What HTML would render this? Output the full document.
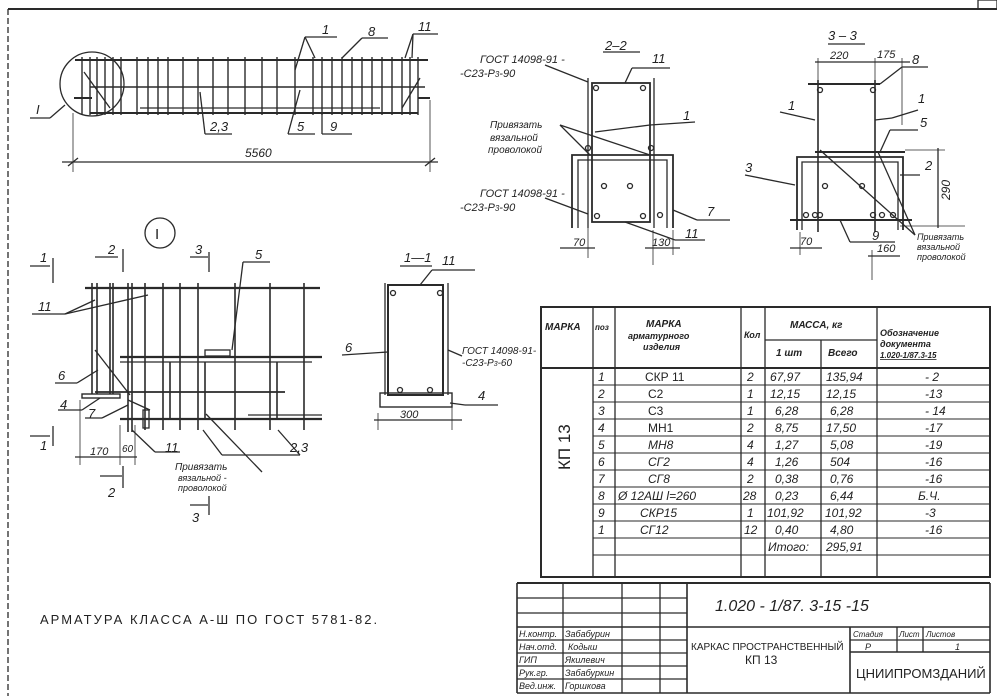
<!DOCTYPE html>
<html><head><meta charset="utf-8"><style>
html,body{margin:0;padding:0;background:#fff;}
svg{display:block;}
text{font-family:"Liberation Sans","DejaVu Sans",sans-serif;fill:#222;}
.i{font-style:italic;}
</style></head><body>
<svg width="997" height="696" viewBox="0 0 997 696" xmlns="http://www.w3.org/2000/svg">
<g stroke="#2a2a2a" stroke-width="1.3" fill="none">
<line x1="8" y1="9" x2="997" y2="9" stroke-width="2"/>
<line x1="8" y1="9" x2="8" y2="696" stroke-dasharray="6 3"/>
<rect x="978" y="0" width="19" height="9"/>

<circle cx="92" cy="84" r="32"/>
<line x1="75" y1="60" x2="428" y2="60" stroke-width="2"/>
<line x1="90" y1="87" x2="425" y2="87" stroke-width="1.6"/>
<line x1="90" y1="113" x2="418" y2="113" stroke-width="2"/>
<line x1="140" y1="108" x2="380" y2="108"/>
<line x1="74" y1="98" x2="92" y2="98" stroke-width="2"/>
<line x1="418" y1="98" x2="430" y2="98" stroke-width="2"/>
<g stroke-width="1.4">
<line x1="82" y1="57" x2="82" y2="115"/><line x1="90" y1="57" x2="90" y2="115"/><line x1="97" y1="57" x2="97" y2="115"/>
<line x1="105" y1="57" x2="105" y2="115"/><line x1="113" y1="57" x2="113" y2="115"/><line x1="121" y1="57" x2="121" y2="115"/>
<line x1="137" y1="57" x2="137" y2="115"/><line x1="148" y1="57" x2="148" y2="115"/><line x1="158" y1="57" x2="158" y2="115"/>
<line x1="168" y1="57" x2="168" y2="115"/><line x1="183" y1="57" x2="183" y2="115"/><line x1="198" y1="57" x2="198" y2="115"/>
<line x1="213" y1="57" x2="213" y2="115"/><line x1="228" y1="57" x2="228" y2="115"/><line x1="245" y1="57" x2="245" y2="115"/>
<line x1="262" y1="57" x2="262" y2="115"/><line x1="277" y1="57" x2="277" y2="115"/><line x1="295" y1="57" x2="295" y2="115"/>
<line x1="313" y1="57" x2="313" y2="115"/><line x1="322" y1="57" x2="322" y2="115"/><line x1="332" y1="57" x2="332" y2="115"/>
<line x1="342" y1="57" x2="342" y2="115"/><line x1="352" y1="57" x2="352" y2="115"/><line x1="362" y1="57" x2="362" y2="115"/>
<line x1="372" y1="57" x2="372" y2="115"/><line x1="382" y1="57" x2="382" y2="115"/><line x1="392" y1="57" x2="392" y2="115"/>
<line x1="402" y1="57" x2="402" y2="115"/><line x1="410" y1="57" x2="410" y2="115"/><line x1="418" y1="57" x2="418" y2="115"/>
</g>
<line x1="84" y1="72" x2="110" y2="108"/><line x1="420" y1="78" x2="402" y2="108"/>
<line x1="73" y1="113" x2="73" y2="172" stroke-width="0.8"/><line x1="430" y1="100" x2="430" y2="172" stroke-width="0.8"/>
<line x1="62" y1="162" x2="438" y2="162"/>
<line x1="68" y1="166" x2="78" y2="158"/><line x1="425" y1="166" x2="435" y2="158"/>
<line x1="30" y1="118" x2="50" y2="118"/><line x1="50" y1="118" x2="65" y2="105"/>
<line x1="305" y1="37" x2="337" y2="37"/><line x1="305" y1="37" x2="295" y2="70"/><line x1="305" y1="37" x2="315" y2="58"/>
<line x1="362" y1="38" x2="388" y2="38"/><line x1="362" y1="38" x2="342" y2="58"/>
<line x1="413" y1="34" x2="438" y2="34"/><line x1="413" y1="34" x2="405" y2="58"/><line x1="413" y1="34" x2="412" y2="58"/>
<line x1="205" y1="134" x2="232" y2="134"/><line x1="205" y1="134" x2="200" y2="92"/>
<line x1="288" y1="134" x2="315" y2="134"/><line x1="288" y1="134" x2="300" y2="90"/>
<line x1="322" y1="134" x2="352" y2="134"/><line x1="322" y1="134" x2="322" y2="113"/>

<circle cx="160" cy="233" r="15"/>
<line x1="30" y1="266" x2="50" y2="266"/><line x1="53" y1="258" x2="53" y2="283"/>
<line x1="95" y1="257" x2="118" y2="257"/><line x1="123" y1="249" x2="123" y2="272"/>
<line x1="190" y1="257" x2="208" y2="257"/><line x1="209" y1="252" x2="209" y2="272"/>
<line x1="30" y1="436" x2="50" y2="436"/><line x1="53" y1="426" x2="53" y2="446"/>
<line x1="100" y1="476" x2="122" y2="476"/><line x1="123" y1="466" x2="123" y2="488"/>
<line x1="190" y1="505" x2="208" y2="505"/><line x1="209" y1="496" x2="209" y2="515"/>
<line x1="85" y1="288" x2="320" y2="288" stroke-width="2.2"/>
<line x1="120" y1="357" x2="322" y2="357" stroke-width="2.2"/>
<line x1="120" y1="362" x2="312" y2="362"/>
<line x1="95" y1="392" x2="285" y2="392" stroke-width="1.8"/>
<line x1="120" y1="419" x2="322" y2="419" stroke-width="2.2"/>
<line x1="248" y1="415" x2="322" y2="415"/>
<rect x="82" y="394" width="38" height="4" stroke-width="1.4"/>
<g stroke-width="1.6">
<line x1="92" y1="283" x2="92" y2="394"/><line x1="97" y1="283" x2="97" y2="394"/>
<line x1="110" y1="283" x2="110" y2="394"/><line x1="113" y1="283" x2="113" y2="394"/>
<line x1="128" y1="283" x2="128" y2="432"/><line x1="132" y1="283" x2="132" y2="432"/>
<line x1="145" y1="283" x2="145" y2="430"/><line x1="163" y1="283" x2="163" y2="430"/>
<line x1="180" y1="283" x2="180" y2="430"/><line x1="198" y1="283" x2="198" y2="430"/>
<line x1="235" y1="283" x2="235" y2="430"/><line x1="270" y1="283" x2="270" y2="430"/>
<line x1="304" y1="283" x2="304" y2="430"/>
<line x1="170" y1="362" x2="170" y2="420"/><line x1="205" y1="362" x2="205" y2="420"/><line x1="277" y1="362" x2="277" y2="420"/>
</g>
<rect x="205" y="350" width="25" height="6"/>
<line x1="95" y1="350" x2="130" y2="395"/><line x1="128" y1="400" x2="150" y2="410"/>
<rect x="143" y="410" width="6" height="18"/>
<line x1="80" y1="400" x2="80" y2="465" stroke-width="0.8"/><line x1="120" y1="425" x2="120" y2="465" stroke-width="0.8"/><line x1="135" y1="425" x2="135" y2="465" stroke-width="0.8"/>
<line x1="75" y1="457" x2="137" y2="457"/>
<line x1="32" y1="314" x2="65" y2="314"/><line x1="65" y1="314" x2="95" y2="300"/><line x1="65" y1="314" x2="148" y2="295"/>
<line x1="243" y1="262" x2="270" y2="262"/><line x1="243" y1="262" x2="232" y2="350"/>
<line x1="55" y1="383" x2="77" y2="383"/><line x1="77" y1="383" x2="98" y2="370"/>
<line x1="58" y1="410" x2="82" y2="410"/><line x1="82" y1="410" x2="100" y2="398"/>
<line x1="85" y1="418" x2="102" y2="418"/><line x1="102" y1="418" x2="128" y2="405"/>
<line x1="155" y1="452" x2="180" y2="452"/><line x1="155" y1="452" x2="132" y2="430"/>
<line x1="222" y1="455" x2="300" y2="455"/><line x1="222" y1="455" x2="203" y2="430"/><line x1="300" y1="455" x2="278" y2="430"/>
<line x1="206" y1="414" x2="262" y2="472"/>

<line x1="400" y1="266" x2="432" y2="266"/>
<rect x="388" y="285" width="55" height="110" stroke-width="2"/>
<line x1="385" y1="283" x2="385" y2="395"/><line x1="448" y1="283" x2="448" y2="395"/>
<rect x="380" y="393" width="72" height="14" stroke-width="1.4"/>
<line x1="432" y1="270" x2="475" y2="270"/><line x1="432" y1="270" x2="420" y2="285"/>
<line x1="342" y1="355" x2="388" y2="352"/>
<line x1="448" y1="350" x2="462" y2="356"/>
<line x1="450" y1="403" x2="465" y2="405"/><line x1="465" y1="405" x2="498" y2="405"/>
<line x1="378" y1="413" x2="378" y2="430" stroke-width="0.8"/><line x1="452" y1="407" x2="452" y2="430" stroke-width="0.8"/>
<line x1="374" y1="420" x2="462" y2="420"/>
<circle cx="400" cy="390" r="2.5"/><circle cx="430" cy="390" r="2.5"/><circle cx="393" cy="293" r="2.5"/><circle cx="440" cy="293" r="2.5"/>

<line x1="603" y1="52" x2="640" y2="52"/>
<rect x="592" y="83" width="58" height="139" stroke-width="1.8"/>
<line x1="588" y1="78" x2="588" y2="228"/><line x1="654" y1="78" x2="654" y2="228"/>
<path d="M572 228 V155 H673 V228" stroke-width="1.8"/><path d="M578 228 V160 H667 V228"/>
<circle cx="596" cy="88" r="2.5"/><circle cx="643" cy="88" r="2.5"/><circle cx="597" cy="216" r="2.5"/><circle cx="643" cy="216" r="2.5"/>
<circle cx="604" cy="186" r="2.5"/><circle cx="630" cy="186" r="2.5"/><circle cx="660" cy="215" r="2.5"/>
<circle cx="588" cy="148" r="2.5"/><circle cx="651" cy="148" r="2.5"/>
<line x1="632" y1="68" x2="670" y2="68"/><line x1="632" y1="68" x2="625" y2="83"/>
<line x1="545" y1="65" x2="588" y2="82"/>
<line x1="545" y1="198" x2="588" y2="214"/>
<line x1="560" y1="125" x2="590" y2="155"/><line x1="560" y1="125" x2="650" y2="155"/>
<line x1="650" y1="125" x2="695" y2="122"/><line x1="650" y1="125" x2="595" y2="132"/>
<line x1="673" y1="210" x2="697" y2="220"/><line x1="697" y1="220" x2="730" y2="220"/>
<line x1="625" y1="222" x2="675" y2="240"/><line x1="675" y1="240" x2="705" y2="240"/>
<line x1="588" y1="225" x2="588" y2="258" stroke-width="0.8"/><line x1="560" y1="248" x2="595" y2="248"/>
<line x1="653" y1="230" x2="653" y2="265" stroke-width="0.8"/><line x1="673" y1="230" x2="673" y2="255" stroke-width="0.8"/><line x1="645" y1="248" x2="680" y2="248"/>

<line x1="828" y1="44" x2="865" y2="44"/>
<line x1="808" y1="84" x2="880" y2="84" stroke-width="2"/>
<line x1="818" y1="80" x2="818" y2="232" stroke-width="1.6"/><line x1="875" y1="80" x2="875" y2="232" stroke-width="1.6"/>
<line x1="815" y1="152" x2="905" y2="152" stroke-width="2"/>
<path d="M797 230 V157 H903 V230" stroke-width="1.8"/><path d="M802 230 V162 H898 V230"/>
<line x1="790" y1="220" x2="912" y2="220" stroke-width="2"/>
<circle cx="820" cy="90" r="2.5"/><circle cx="873" cy="90" r="2.5"/><circle cx="825" cy="186" r="2.5"/><circle cx="862" cy="186" r="2.5"/>
<circle cx="806" cy="215" r="2.5"/><circle cx="815" cy="215" r="2.5"/><circle cx="820" cy="215" r="2.5"/><circle cx="873" cy="215" r="2.5"/><circle cx="882" cy="215" r="2.5"/><circle cx="893" cy="215" r="2.5"/>
<line x1="815" y1="62" x2="910" y2="62"/><line x1="818" y1="58" x2="818" y2="80" stroke-width="0.8"/><line x1="875" y1="58" x2="875" y2="80" stroke-width="0.8"/><line x1="902" y1="58" x2="902" y2="125" stroke-width="0.8"/>
<line x1="902" y1="67" x2="928" y2="67"/><line x1="902" y1="67" x2="880" y2="84"/>
<line x1="905" y1="150" x2="945" y2="150" stroke-width="0.8"/><line x1="900" y1="226" x2="965" y2="226" stroke-width="0.8"/>
<line x1="938" y1="148" x2="938" y2="228"/>
<line x1="800" y1="232" x2="800" y2="255" stroke-width="0.8"/><line x1="790" y1="248" x2="822" y2="248"/>
<line x1="872" y1="250" x2="872" y2="280" stroke-width="0.8"/><line x1="868" y1="256" x2="900" y2="256"/>
<line x1="780" y1="112" x2="815" y2="120"/>
<line x1="892" y1="118" x2="918" y2="110"/><line x1="892" y1="118" x2="875" y2="120"/>
<line x1="890" y1="130" x2="918" y2="130"/><line x1="890" y1="130" x2="880" y2="152"/>
<line x1="900" y1="175" x2="920" y2="175"/>
<line x1="745" y1="175" x2="795" y2="185"/>
<line x1="850" y1="242" x2="895" y2="242"/><line x1="850" y1="242" x2="840" y2="220"/>
<line x1="915" y1="235" x2="820" y2="150"/><line x1="915" y1="235" x2="878" y2="152"/>

<rect x="541" y="307" width="449" height="270" stroke-width="2"/>
<line x1="593" y1="307" x2="593" y2="577"/><line x1="615" y1="307" x2="615" y2="577"/>
<line x1="741" y1="307" x2="741" y2="577"/><line x1="765" y1="307" x2="765" y2="577"/>
<line x1="821" y1="340" x2="821" y2="577"/><line x1="877" y1="307" x2="877" y2="577"/>
<line x1="765" y1="340" x2="877" y2="340"/>
<line x1="541" y1="368" x2="990" y2="368" stroke-width="2"/>
<g stroke-width="0.9">
<line x1="593" y1="385" x2="990" y2="385"/><line x1="593" y1="402" x2="990" y2="402"/><line x1="593" y1="419" x2="990" y2="419"/>
<line x1="593" y1="436" x2="990" y2="436"/><line x1="593" y1="453" x2="990" y2="453"/><line x1="593" y1="470" x2="990" y2="470"/>
<line x1="593" y1="487" x2="990" y2="487"/><line x1="593" y1="504" x2="990" y2="504"/><line x1="593" y1="521" x2="990" y2="521"/>
<line x1="593" y1="538" x2="990" y2="538"/><line x1="593" y1="555" x2="990" y2="555"/>
</g>

<line x1="517" y1="583" x2="990" y2="583" stroke-width="2"/>
<line x1="517" y1="583" x2="517" y2="693" stroke-width="1.6"/>
<line x1="517" y1="693" x2="990" y2="693" stroke-width="1.6"/>
<line x1="990" y1="583" x2="990" y2="693" stroke-width="1.6"/>
<line x1="687" y1="583" x2="687" y2="693" stroke-width="1.6"/>
<line x1="517" y1="598" x2="687" y2="598"/><line x1="517" y1="613" x2="687" y2="613"/>
<line x1="517" y1="627" x2="990" y2="627" stroke-width="1.6"/>
<line x1="517" y1="640" x2="687" y2="640"/><line x1="517" y1="653" x2="687" y2="653"/><line x1="517" y1="666" x2="687" y2="666"/><line x1="517" y1="679" x2="687" y2="679"/>
<line x1="563" y1="583" x2="563" y2="693"/><line x1="622" y1="583" x2="622" y2="693"/><line x1="660" y1="583" x2="660" y2="693"/>
<line x1="850" y1="627" x2="850" y2="693" stroke-width="1.6"/>
<line x1="850" y1="640" x2="990" y2="640"/><line x1="850" y1="652" x2="990" y2="652" stroke-width="1.4"/>
<line x1="897" y1="627" x2="897" y2="652"/><line x1="923" y1="627" x2="923" y2="652"/>
</g>

<g class="i" font-size="13">
<text x="36" y="114">I</text>
<text x="322" y="34">1</text><text x="368" y="36">8</text><text x="418" y="31">11</text>
<text x="210" y="131">2,3</text><text x="297" y="131">5</text><text x="330" y="131">9</text>
<text x="245" y="157" font-size="12">5560</text>
<text x="155" y="239" font-size="15" font-style="normal">I</text>
<text x="40" y="262">1</text><text x="108" y="254">2</text><text x="195" y="254">3</text>
<text x="40" y="450">1</text><text x="108" y="497">2</text><text x="192" y="522">3</text>
<text x="38" y="311">11</text><text x="255" y="259">5</text>
<text x="58" y="380">6</text><text x="60" y="409">4</text><text x="88" y="418">7</text>
<text x="90" y="455" font-size="11">170</text><text x="122" y="452" font-size="10">60</text>
<text x="165" y="452">11</text><text x="290" y="452">2,3</text>
<text x="175" y="470" font-size="10">Привязать</text>
<text x="178" y="481" font-size="9">вязальной -</text>
<text x="178" y="491" font-size="9">проволокой</text>
<text x="404" y="262">1—1</text><text x="442" y="265">11</text>
<text x="345" y="352">6</text><text x="478" y="400">4</text>
<text x="400" y="418" font-size="11">300</text>
<text x="462" y="354" font-size="10">ГОСТ 14098-91-</text>
<text x="462" y="366" font-size="10">-С23-Р<tspan font-size="7">3</tspan>-60</text>
<text x="605" y="50">2–2</text><text x="652" y="63">11</text>
<text x="480" y="63" font-size="11">ГОСТ 14098-91 -</text>
<text x="460" y="77" font-size="11">-С23-Р<tspan font-size="8">3</tspan>-90</text>
<text x="480" y="197" font-size="11">ГОСТ 14098-91 -</text>
<text x="460" y="211" font-size="11">-С23-Р<tspan font-size="8">3</tspan>-90</text>
<text x="490" y="128" font-size="10">Привязать</text>
<text x="490" y="141" font-size="10">вязальной</text>
<text x="488" y="153" font-size="10">проволокой</text>
<text x="683" y="120">1</text><text x="707" y="216">7</text><text x="685" y="238">11</text>
<text x="573" y="246" font-size="11">70</text><text x="652" y="246" font-size="11">130</text>
<text x="828" y="40">3 – 3</text>
<text x="830" y="59" font-size="11">220</text><text x="877" y="58" font-size="11">175</text><text x="912" y="64">8</text>
<text x="788" y="110">1</text><text x="918" y="103">1</text><text x="920" y="127">5</text><text x="925" y="170">2</text>
<text x="745" y="172">3</text><text x="872" y="240">9</text>
<text x="800" y="245" font-size="11">70</text><text x="877" y="252" font-size="11">160</text>
<text x="950" y="200" font-size="12" transform="rotate(-90 950 200)">290</text>
<text x="917" y="240" font-size="9">Привязать</text>
<text x="917" y="250" font-size="9">вязальной</text>
<text x="917" y="260" font-size="9">проволокой</text>
</g>

<g class="i" font-size="10" font-weight="bold">
<text x="545" y="330">МАРКА</text><text x="595" y="330" font-size="8">поз</text>
<text x="646" y="327">МАРКА</text><text x="628" y="339" font-size="9">арматурного</text><text x="643" y="350" font-size="9">изделия</text>
<text x="744" y="338" font-size="9">Кол</text>
<text x="790" y="328">МАССА, кг</text>
<text x="776" y="356">1 шт</text><text x="828" y="356">Всего</text>
<text x="880" y="336" font-size="9">Обозначение</text><text x="880" y="347" font-size="9">документа</text><text x="880" y="358" font-size="8" text-decoration="underline">1.020-1/87.3-15</text>
</g>
<text x="570" y="470" font-size="17" transform="rotate(-90 570 470)">КП 13</text>
<g class="i" font-size="12">
<text x="598" y="381">1</text><text x="645" y="381" font-style="normal">СКР 11</text><text x="747" y="381">2</text><text x="770" y="381">67,97</text><text x="826" y="381">135,94</text><text x="925" y="381">- 2</text>
<text x="598" y="398">2</text><text x="648" y="398" font-style="normal">С2</text><text x="747" y="398">1</text><text x="770" y="398">12,15</text><text x="826" y="398">12,15</text><text x="925" y="398">-13</text>
<text x="598" y="415">3</text><text x="648" y="415" font-style="normal">С3</text><text x="747" y="415">1</text><text x="775" y="415">6,28</text><text x="830" y="415">6,28</text><text x="925" y="415">- 14</text>
<text x="598" y="432">4</text><text x="648" y="432" font-style="normal">МН1</text><text x="747" y="432">2</text><text x="775" y="432">8,75</text><text x="826" y="432">17,50</text><text x="925" y="432">-17</text>
<text x="598" y="449">5</text><text x="648" y="449">МН8</text><text x="747" y="449">4</text><text x="775" y="449">1,27</text><text x="830" y="449">5,08</text><text x="925" y="449">-19</text>
<text x="598" y="466">6</text><text x="648" y="466">СГ2</text><text x="747" y="466">4</text><text x="775" y="466">1,26</text><text x="830" y="466">504</text><text x="925" y="466">-16</text>
<text x="598" y="483">7</text><text x="648" y="483">СГ8</text><text x="747" y="483">2</text><text x="775" y="483">0,38</text><text x="830" y="483">0,76</text><text x="925" y="483">-16</text>
<text x="598" y="500">8</text><text x="618" y="500">Ø 12АШ  l=260</text><text x="743" y="500">28</text><text x="775" y="500">0,23</text><text x="830" y="500">6,44</text><text x="918" y="500">Б.Ч.</text>
<text x="598" y="517">9</text><text x="640" y="517">СКР15</text><text x="747" y="517">1</text><text x="767" y="517">101,92</text><text x="825" y="517">101,92</text><text x="925" y="517">-3</text>
<text x="598" y="534">1</text><text x="640" y="534">СГ12</text><text x="744" y="534">12</text><text x="775" y="534">0,40</text><text x="830" y="534">4,80</text><text x="925" y="534">-16</text>
<text x="768" y="551">Итого:</text><text x="826" y="551">295,91</text>
</g>

<text x="40" y="624" font-size="13" letter-spacing="2">АРМАТУРА КЛАССА А-Ш ПО ГОСТ 5781-82.</text>

<g font-size="9" class="i">
<text x="519" y="637">Н.контр.</text><text x="565" y="637">Забабурин</text>
<text x="519" y="650">Нач.отд.</text><text x="568" y="650">Кодыш</text>
<text x="519" y="663">ГИП</text><text x="565" y="663">Якилевич</text>
<text x="519" y="676">Рук.гр.</text><text x="565" y="676">Забабуркин</text>
<text x="519" y="689">Вед.инж.</text><text x="565" y="689">Горшкова</text>
<text x="853" y="637" font-size="8">Стадия</text><text x="899" y="637" font-size="8">Лист</text><text x="926" y="637" font-size="8">Листов</text>
<text x="865" y="650">Р</text><text x="955" y="650">1</text>
</g>
<text x="715" y="611" font-size="16" class="i">1.020 - 1/87.  3-15    -15</text>
<text x="691" y="650" font-size="10">КАРКАС ПРОСТРАНСТВЕННЫЙ</text>
<text x="745" y="664" font-size="12">КП 13</text>
<text x="856" y="678" font-size="13">ЦНИИПРОМЗДАНИЙ</text>
</svg>
</body></html>
